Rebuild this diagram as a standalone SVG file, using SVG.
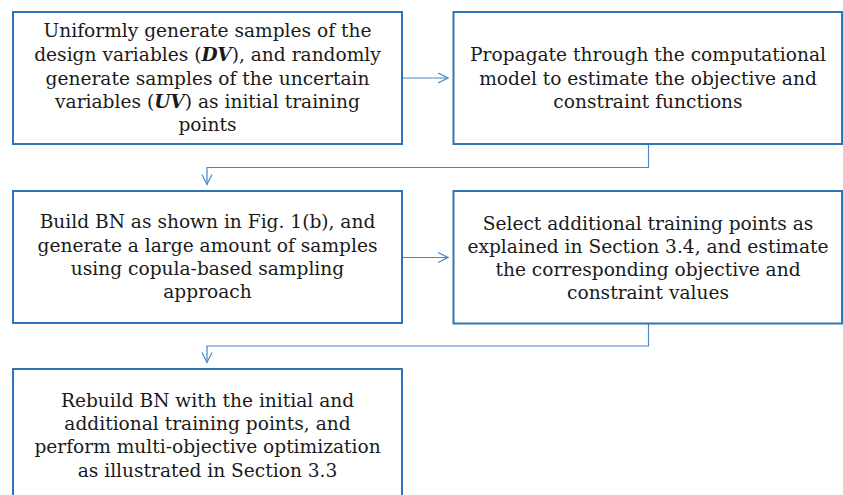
<svg xmlns="http://www.w3.org/2000/svg" width="843" height="495" viewBox="0 0 843 495">
<style>
.box{fill:#fff;stroke:#2E75B6;stroke-width:2}
.t{font-family:"DejaVu Serif","Liberation Serif",serif;font-size:18.6px;fill:#1a1a1a;text-anchor:middle}
.m{font-weight:bold;font-style:italic}
.c{fill:none;stroke:#4A86C8;stroke-width:1.2}
</style>
<defs>
<marker id="ah" viewBox="0 0 12 12" refX="11" refY="6" markerWidth="12" markerHeight="12" markerUnits="userSpaceOnUse" orient="auto">
<path d="M1,1 L11,6 L1,11" fill="none" stroke="#4A86C8" stroke-width="1.2"/>
</marker>
</defs>
<rect width="843" height="495" fill="#fff"/>
<g id="connectors">
<line class="c" x1="402" y1="78" x2="448" y2="78" marker-end="url(#ah)"/>
<polyline class="c" points="648.5,144 648.5,167.5 207,167.5 207,184.5" marker-end="url(#ah)"/>
<line class="c" x1="402" y1="257.5" x2="448" y2="257.5" marker-end="url(#ah)"/>
<polyline class="c" points="648.5,324 648.5,346 207,346 207,362.5" marker-end="url(#ah)"/>
</g>
<g id="n1">
<rect class="box" x="13" y="12" width="389" height="132"/>
<text class="t" x="207.5" y="36.5">Uniformly generate samples of the</text>
<text class="t" x="207.5" y="60.5">design variables (<tspan class="m">DV</tspan>), and randomly</text>
<text class="t" x="207.5" y="84.5">generate samples of the uncertain</text>
<text class="t" x="207.5" y="108">variables (<tspan class="m">UV</tspan>) as initial training</text>
<text class="t" x="207.5" y="131">points</text>
</g>
<g id="n2">
<rect class="box" x="453.5" y="12" width="388.5" height="132"/>
<text class="t" x="648" y="61">Propagate through the computational</text>
<text class="t" x="648" y="84.5">model to estimate the objective and</text>
<text class="t" x="648" y="108">constraint functions</text>
</g>
<g id="n3">
<rect class="box" x="13" y="191" width="389" height="132"/>
<text class="t" x="207.5" y="228">Build BN as shown in Fig. 1(b), and</text>
<text class="t" x="207.5" y="251.5">generate a large amount of samples</text>
<text class="t" x="207.5" y="275">using copula-based sampling</text>
<text class="t" x="207.5" y="298">approach</text>
</g>
<g id="n4">
<rect class="box" x="453.5" y="191" width="388.5" height="132.5"/>
<text class="t" x="648" y="229.5">Select additional training points as</text>
<text class="t" x="648" y="252.5">explained in Section 3.4, and estimate</text>
<text class="t" x="648" y="276">the corresponding objective and</text>
<text class="t" x="648" y="299">constraint values</text>
</g>
<g id="n5">
<rect class="box" x="13" y="369" width="389" height="140"/>
<text class="t" x="207.5" y="406.5">Rebuild BN with the initial and</text>
<text class="t" x="207.5" y="430">additional training points, and</text>
<text class="t" x="207.5" y="453">perform multi-objective optimization</text>
<text class="t" x="207.5" y="476.5">as illustrated in Section 3.3</text>
</g>
</svg>
